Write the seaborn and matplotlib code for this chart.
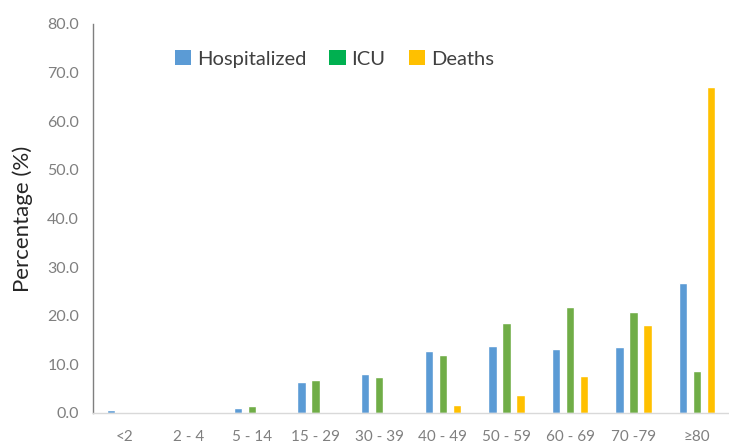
import matplotlib
matplotlib.use("Agg")
import matplotlib.pyplot as plt
from matplotlib.patches import Patch
import pandas as pd
import seaborn as sns

age_groups = ["<2", "2 - 4", "5 - 14", "15 - 29", "30 - 39", "40 - 49",
              "50 - 59", "60 - 69", "70 -79", "≥80"]
hospitalized = [0.7, 0.0, 1.1, 6.3, 8.1, 12.8, 13.7, 13.1, 13.5, 26.8]
icu = [0.0, 0.0, 1.4, 6.8, 7.5, 12.0, 18.5, 21.9, 20.8, 8.6]
deaths = [0.0, 0.0, 0.0, 0.0, 0.0, 1.6, 3.6, 7.7, 18.0, 67.0]

series = ["Hospitalized", "ICU", "Deaths"]
bar_colors = ["#5B9BD5", "#70AD47", "#FFC000"]
legend_colors = ["#5B9BD5", "#00B050", "#FFC000"]

df = pd.DataFrame({
    "age": age_groups * 3,
    "series": sum([[s] * len(age_groups) for s in series], []),
    "value": hospitalized + icu + deaths,
})

sns.set_theme(style="white")
plt.rcParams["font.family"] = ["Lato", "DejaVu Sans"]

fig = plt.figure(figsize=(7.29, 4.46), dpi=100)
ax = fig.add_axes([93 / 729, 33 / 446, 636 / 729, 389 / 446])

sns.barplot(data=df, x="age", y="value", hue="series", order=age_groups,
            hue_order=series, palette=bar_colors, width=0.66, gap=0.4,
            saturation=1, ax=ax, legend=False)

ax.set_xlim(-0.5, len(age_groups) - 0.5)
ax.set_ylim(0, 80)
ax.set_yticks(range(0, 81, 10))
ax.set_yticklabels([f"{v:.1f}" for v in range(0, 81, 10)])
ax.set_xlabel("")
ax.set_ylabel("Percentage (%)", fontsize=16, color="#262626", labelpad=10)
ax.tick_params(axis="y", length=0, pad=10, labelsize=11.5, labelcolor="#7F7F7F")
ax.tick_params(axis="x", length=0, pad=12, labelsize=11, labelcolor="#7F7F7F")

for side in ["top", "right"]:
    ax.spines[side].set_visible(False)
ax.spines["left"].set_color("#7F7F7F")
ax.spines["left"].set_linewidth(1.0)
ax.spines["bottom"].set_color("#D9D9D9")
ax.spines["bottom"].set_linewidth(1.0)

handles = [Patch(facecolor=c, edgecolor="none") for c in legend_colors]
ax.legend(handles, series, ncol=3, frameon=False, loc="upper left",
          bbox_to_anchor=(0.1, 0.98), fontsize=14.5, handlelength=0.8,
          handleheight=0.8, handletextpad=0.3, columnspacing=1.15,
          labelcolor="#404040")

fig.savefig("out.png", dpi=100)
